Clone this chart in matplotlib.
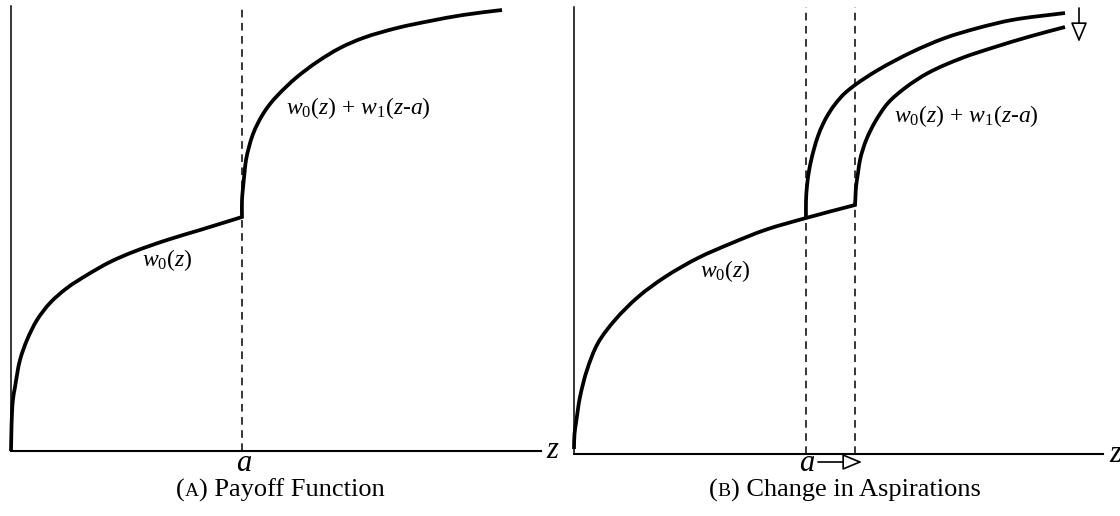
import numpy as np
import matplotlib
matplotlib.use("Agg")
import matplotlib.pyplot as plt
from matplotlib.path import Path
from matplotlib.patches import PathPatch
from matplotlib.offsetbox import TextArea, HPacker, AnnotationBbox

plt.rcParams['font.family'] = ['Liberation Serif', 'DejaVu Serif']
plt.rcParams['mathtext.fontset'] = 'custom'
plt.rcParams['mathtext.rm'] = 'Liberation Serif'
plt.rcParams['mathtext.it'] = 'Liberation Serif:italic'

# panel A: payoff below and above the aspiration level a
z_low_a = [0, 0.3, 1, 2, 4, 9, 16, 26, 39, 56, 76, 99, 122, 156, 189, 231]
w_low_a = [0, 15, 38, 52, 64, 91, 111, 131, 148, 163, 176, 189, 199, 211, 221, 234]
z_high_a = [231, 231, 232, 233.5, 235, 238, 242, 247, 252, 259, 266, 276, 286, 306,
            329, 352, 386, 419, 452, 491]
w_high_a = [234, 251, 263, 278, 291, 304, 317, 328, 337, 347, 355, 365, 374, 389,
            403, 413, 423, 430, 436, 441]
a_left = 231

# panel B: aspiration moves from a_old to a_new
z_low_b = [0, 0.5, 2, 6, 13, 24, 41, 64, 91, 124, 158, 191, 232, 281]
w_low_b = [5, 20, 31, 57, 84, 111, 134, 157, 177, 196, 211, 224, 236, 249]
z_old_b = [232, 232, 233, 235, 237, 240, 244, 249, 255, 262, 270, 281, 304, 338,
           371, 404, 438, 491]
w_old_b = [236, 253, 268, 283, 293, 305, 318, 330, 341, 351, 360, 369, 384, 402,
           416, 426, 434, 441]
z_new_b = [281, 281.5, 282, 284, 286, 289, 293, 301, 314, 331, 354, 388, 421, 454, 491]
w_new_b = [249, 258, 267, 281, 294, 305, 316, 332, 351, 366, 381, 396, 407, 417, 427]
a_old, a_new = 232, 281

W, H = 1120, 516
fig = plt.figure(figsize=(W / 100, H / 100), dpi=100)

dash = dict(color='black', lw=1.1, dashes=(5, 3.6), clip_on=False)
hollow = dict(arrowstyle='-|>,head_length=1.2,head_width=0.5', fc='white', ec='black',
              lw=1.2, shrinkA=0, shrinkB=0, mutation_scale=10)


def bezier_through(*pieces):
    # smooth cubic pieces through the points, a sharp corner where pieces meet
    verts, codes = [], []
    for xs, ys in pieces:
        p = np.column_stack([xs, ys]).astype(float)
        n = len(p)
        seg = np.diff(p, axis=0)
        unit = seg / np.linalg.norm(seg, axis=1)[:, None]
        tang = np.empty_like(p)
        tang[0] = unit[0]
        tang[-1] = unit[-1]
        tang[1:-1] = unit[:-1] + unit[1:]
        tang /= np.linalg.norm(tang, axis=1)[:, None]
        if not verts:
            verts.append(p[0])
            codes.append(Path.MOVETO)
        for i in range(n - 1):
            L = np.linalg.norm(seg[i]) / 3
            verts += [p[i] + tang[i] * L, p[i + 1] - tang[i + 1] * L, p[i + 1]]
            codes += [Path.CURVE4] * 3
    return Path(verts, codes)


def draw_curve(ax, *pieces):
    ax.add_patch(PathPatch(bezier_through(*pieces), fill=False, ec='black', lw=2.7,
                           capstyle='butt', joinstyle='miter', clip_on=False))


def make_axes(x0, y_axis, x1, top):
    ax = fig.add_axes([x0 / W, (H - y_axis) / H, (x1 - x0) / W, (y_axis - top) / H])
    ax.set_xlim(0, x1 - x0)
    ax.set_ylim(0, y_axis - top)
    for s in ['top', 'right']:
        ax.spines[s].set_visible(False)
    ax.spines['left'].set_linewidth(1.1)
    ax.spines['bottom'].set_linewidth(1.5)
    ax.set_xticks([])
    ax.set_yticks([])
    ax.patch.set_alpha(0)
    return ax


def caption(x, y, letter, title):
    parts = [TextArea('(', textprops=dict(fontsize=19)),
             TextArea(letter, textprops=dict(fontsize=14)),
             TextArea(') ' + title, textprops=dict(fontsize=19))]
    box = HPacker(children=parts, align='baseline', pad=0, sep=0)
    fig.add_artist(AnnotationBbox(box, (x / W, 1 - y / H), xycoords='figure fraction',
                                  frameon=False, box_alignment=(0.5, 0.5)))


label_w0 = r'$w_0(z)$'
label_w1 = r'$w_0(z)$ + $w_1(z$-$a)$'

# (A)
ax1 = make_axes(11, 451, 541, 6)
top1 = ax1.get_ylim()[1]
ax1.plot([a_left, a_left], [0, top1], **dash)
draw_curve(ax1, (z_low_a, w_low_a), (z_high_a, w_high_a))
ax1.text(156, 191, label_w0, fontsize=17, ha='center', va='center')
ax1.text(347, 343, label_w1, fontsize=17, ha='center', va='center')
ax1.text(a_left + 2, -20, r'$a$', fontsize=22, ha='center', va='baseline', clip_on=False)
ax1.text(542, 0, r'$z$', fontsize=22, ha='center', va='center', clip_on=False)
caption(280, 490, 'A', 'Payoff Function')

# (B)
ax2 = make_axes(574, 454, 1103, 7)
top2 = ax2.get_ylim()[1]
for a in (a_old, a_new):
    ax2.plot([a, a], [0, top2], **dash)
draw_curve(ax2, (z_low_b, w_low_b), (z_new_b, w_new_b))
draw_curve(ax2, (z_old_b, w_old_b))
ax2.text(151, 183, label_w0, fontsize=17, ha='center', va='center')
ax2.text(392, 338, label_w1, fontsize=17, ha='center', va='center')
ax2.text(a_old + 1, -17, r'$a$', fontsize=22, ha='center', va='baseline', clip_on=False)
ax2.text(542, 0, r'$z$', fontsize=22, ha='center', va='center', clip_on=False)
ax2.annotate('', xy=(a_new + 7, -8), xytext=(a_old + 12, -8), arrowprops=hollow,
             annotation_clip=False)
ax2.annotate('', xy=(505, 412), xytext=(505, 446), arrowprops=hollow,
             annotation_clip=False)
caption(845, 490, 'B', 'Change in Aspirations')

fig.savefig('out.png', dpi=100)
